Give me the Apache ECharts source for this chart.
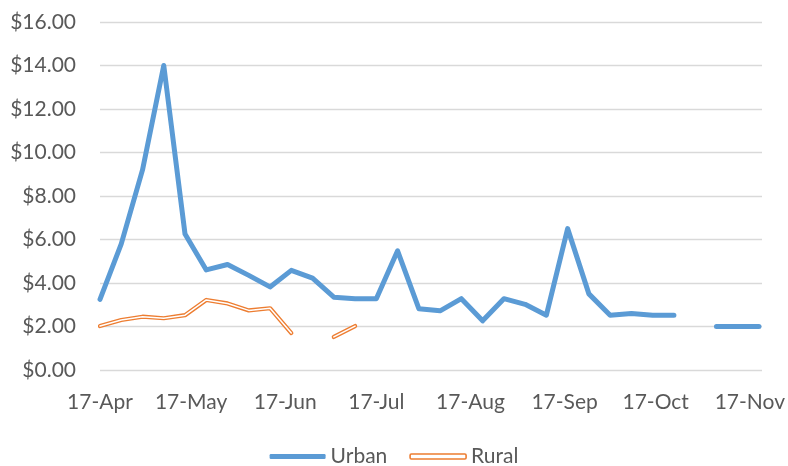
<!DOCTYPE html>
<html>
<head>
<meta charset="utf-8">
<script src="https://cdn.jsdelivr.net/npm/echarts@6/dist/echarts.min.js"></script>
<style>
html,body{margin:0;padding:0;background:#fff;}
#chart{width:788px;height:466px;}
</style>
</head>
<body>
<div id="chart"></div>
<script>
const dates = [
  '2017-04-17','2017-04-24','2017-05-01','2017-05-08','2017-05-15','2017-05-22','2017-05-29','2017-06-05',
  '2017-06-12','2017-06-19','2017-06-26','2017-07-03','2017-07-10','2017-07-17','2017-07-24','2017-07-31',
  '2017-08-07','2017-08-14','2017-08-21','2017-08-28','2017-09-04','2017-09-11','2017-09-18','2017-09-25',
  '2017-10-02','2017-10-09','2017-10-16','2017-10-23','2017-10-30','2017-11-06','2017-11-13','2017-11-20'
];
const urban = [
  3.25, 5.8, 9.2, 14.0, 6.25, 4.6, 4.85, 4.35,
  3.82, 4.58, 4.22, 3.35, 3.28, 3.28, 5.48, 2.82,
  2.72, 3.28, 2.26, 3.28, 3.02, 2.52, 6.5, 3.5,
  2.52, 2.6, 2.52, 2.52, null, 2.0, 2.0, 2.0
];
const rural = [
  2.02, 2.3, 2.45, 2.38, 2.52, 3.22, 3.06, 2.74,
  2.84, 1.7, null, 1.52, 2.02, null, null, null,
  null, null, null, null, null, null, null, null,
  null, null, null, null, null, null, null, null
];
const tickDates = ['2017-04-17','2017-05-17','2017-06-17','2017-07-17','2017-08-17','2017-09-17','2017-10-17','2017-11-17'];
const tickLabels = ['17-Apr','17-May','17-Jun','17-Jul','17-Aug','17-Sep','17-Oct','17-Nov'];
const axisMinDate = '2017-04-17';
const axisMaxDate = '2017-11-21';

function dayNum(s){ const p = s.split('-').map(Number); return Math.round(Date.UTC(p[0], p[1]-1, p[2]) / 86400000); }
const base = dayNum(axisMinDate);
const dOff = s => dayNum(s) - base;
const tickDays = tickDates.map(dOff);
const pair = arr => dates.map((d,i) => [dOff(d), arr[i]]);

const FONT = 'Lato';
const TXT = '#595959';
const BLUE = '#5B9BD5';
const ORANGE = '#ED7D31';

const chart = echarts.init(document.getElementById('chart'), null, {renderer:'canvas'});
chart.setOption({
  animation: false,
  backgroundColor: '#fff',
  textStyle: {fontFamily: FONT},
  grid: {left: 100, right: 25, top: 22, bottom: 96, containLabel: false},
  legend: {
    left: 'center', top: 441,
    itemWidth: 56, itemHeight: 5, itemGap: 22,
    textStyle: {fontFamily: FONT, fontSize: 21, color: TXT},
    data: [
      {name: 'Urban', icon: 'roundRect', itemStyle: {color: BLUE}},
      {name: 'Rural', icon: 'roundRect', itemStyle: {color: '#fff', borderColor: ORANGE, borderWidth: 1.6}}
    ]
  },
  xAxis: {
    type: 'value',
    min: 0, max: dOff(axisMaxDate),
    axisLine: {show: false},
    axisTick: {show: false},
    splitLine: {show: false},
    axisLabel: {
      customValues: tickDays,
      fontFamily: FONT, fontSize: 21, color: TXT, margin: 22,
      formatter: function(v){ const i = tickDays.indexOf(v); return i >= 0 ? tickLabels[i] : ''; },
      hideOverlap: false
    }
  },
  yAxis: {
    type: 'value', min: 0, max: 16, interval: 2,
    axisLine: {show: false}, axisTick: {show: false},
    splitLine: {lineStyle: {color: '#D9D9D9', width: 1.3}},
    axisLabel: {
      fontFamily: FONT, fontSize: 21, color: TXT, margin: 24,
      formatter: v => '$' + v.toFixed(2)
    }
  },
  series: [
    {
      name: 'Urban', type: 'line', data: pair(urban), showSymbol: false, symbol: 'none',
      connectNulls: false,
      lineStyle: {color: BLUE, width: 5, cap: 'round', join: 'round'},
      itemStyle: {color: BLUE}, z: 3
    },
    {
      name: 'Rural', type: 'line', data: pair(rural), showSymbol: false, symbol: 'none',
      connectNulls: false,
      lineStyle: {color: ORANGE, width: 4.2, cap: 'round', join: 'round'},
      itemStyle: {color: ORANGE}, z: 4
    },
    {
      name: 'RuralInner', type: 'line', data: pair(rural), showSymbol: false, symbol: 'none',
      connectNulls: false, silent: true,
      lineStyle: {color: '#ffffff', width: 1.5, cap: 'round', join: 'round'},
      itemStyle: {color: '#ffffff'}, z: 5
    }
  ]
});
</script>
</body>
</html>
